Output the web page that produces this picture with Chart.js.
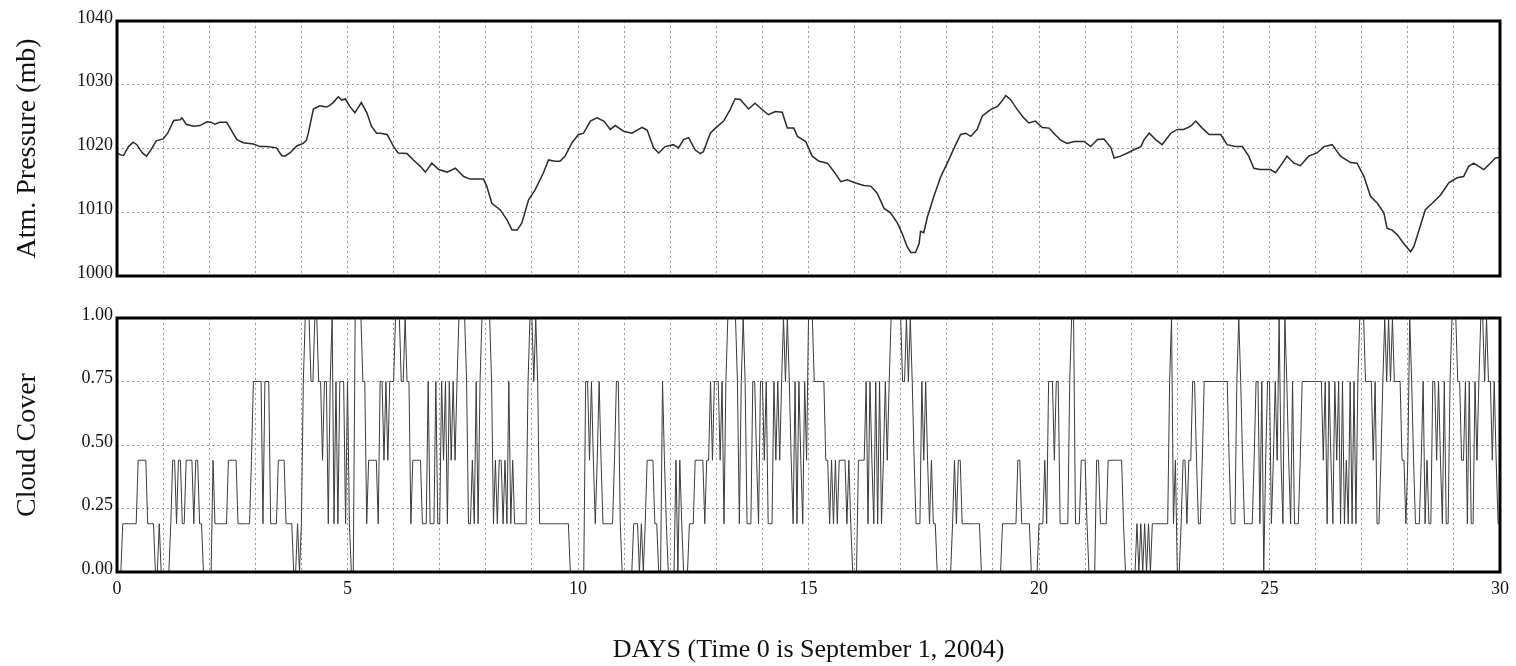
<!DOCTYPE html>
<html>
<head>
<meta charset="utf-8">
<script src="https://cdn.jsdelivr.net/npm/chart.js@4.4.0/dist/chart.umd.min.js"></script>
<style>
  body { margin: 0; background: #fff; }
  #wrap { position: relative; width: 1516px; height: 666px; }
  canvas { position: absolute; left: 0; }
</style>
</head>
<body>
<div id="wrap">
  <canvas id="pressure" width="1516" height="300" style="top:0"></canvas>
  <canvas id="cloud" width="1516" height="366" style="top:300px"></canvas>
</div>
<script>
// atmospheric pressure, read at irregular times (days since Sept 1, 2004)
const pDay = [
  0.00, 0.08, 0.14, 0.25, 0.35, 0.43, 0.55, 0.64, 0.72, 0.85, 1.00, 1.10, 1.23, 1.37, 1.41, 1.50, 1.66, 1.80, 1.95,
  2.05, 2.12, 2.23, 2.38, 2.47, 2.60, 2.74, 2.96, 3.10, 3.25, 3.46, 3.57, 3.64, 3.75, 3.90, 4.04, 4.11, 4.15, 4.26,
  4.40, 4.55, 4.62, 4.69, 4.80, 4.88, 4.95, 5.05, 5.16, 5.30, 5.42, 5.52, 5.63, 5.71, 5.86, 6.00, 6.10, 6.29, 6.43,
  6.58, 6.69, 6.83, 6.98, 7.16, 7.34, 7.52, 7.66, 7.95, 8.02, 8.13, 8.31, 8.46, 8.57, 8.68, 8.78, 8.93, 9.07, 9.25,
  9.36, 9.50, 9.61, 9.72, 9.87, 10.01, 10.12, 10.27, 10.41, 10.56, 10.70, 10.81, 10.99, 11.17, 11.39, 11.50, 11.64,
  11.75, 11.89, 12.07, 12.18, 12.29, 12.40, 12.54, 12.65, 12.72, 12.87, 12.98, 13.16, 13.30, 13.41, 13.52, 13.70,
  13.84, 13.95, 14.13, 14.28, 14.43, 14.54, 14.68, 14.76, 14.94, 15.08, 15.23, 15.41, 15.55, 15.70, 15.84, 16.02,
  16.20, 16.35, 16.49, 16.64, 16.78, 16.93, 17.03, 17.14, 17.22, 17.32, 17.40, 17.43, 17.50, 17.58, 17.72, 17.87,
  18.01, 18.16, 18.30, 18.41, 18.52, 18.66, 18.77, 18.95, 19.10, 19.17, 19.28, 19.38, 19.53, 19.67, 19.78, 19.92,
  20.07, 20.22, 20.32, 20.47, 20.61, 20.76, 20.98, 21.12, 21.27, 21.41, 21.56, 21.63, 21.77, 21.92, 22.06, 22.21,
  22.28, 22.39, 22.53, 22.67, 22.86, 23.00, 23.14, 23.29, 23.40, 23.54, 23.69, 23.94, 24.08, 24.26, 24.41, 24.55,
  24.66, 24.80, 25.02, 25.13, 25.28, 25.38, 25.53, 25.67, 25.85, 26.03, 26.18, 26.36, 26.54, 26.76, 26.90, 27.05,
  27.19, 27.34, 27.48, 27.55, 27.66, 27.77, 27.91, 28.06, 28.13, 28.27, 28.38, 28.53, 28.71, 28.89, 29.07, 29.21,
  29.32, 29.43, 29.54, 29.65, 29.79, 29.90, 30.00
];
const pMb = [
  1019.3, 1019.0, 1018.9, 1020.3, 1021.0, 1020.6, 1019.3, 1018.8, 1019.6, 1021.2, 1021.5, 1022.4, 1024.4, 1024.5, 1024.8, 1023.8, 1023.5, 1023.6, 1024.2,
  1024.1, 1023.8, 1024.1, 1024.1, 1023.0, 1021.4, 1020.9, 1020.7, 1020.3, 1020.3, 1020.1, 1018.9, 1018.8, 1019.3, 1020.4, 1020.8, 1021.3, 1022.4, 1026.2,
  1026.7, 1026.5, 1026.8, 1027.2, 1028.1, 1027.6, 1027.8, 1026.6, 1025.6, 1027.2, 1025.6, 1023.5, 1022.4, 1022.4, 1022.2, 1020.3, 1019.3, 1019.2, 1018.2,
  1017.2, 1016.3, 1017.7, 1016.7, 1016.3, 1016.9, 1015.6, 1015.2, 1015.2, 1014.1, 1011.4, 1010.4, 1008.8, 1007.2, 1007.2, 1008.3, 1012.0, 1013.5, 1016.2,
  1018.2, 1018.0, 1018.0, 1018.8, 1020.9, 1022.2, 1022.4, 1024.3, 1024.8, 1024.3, 1023.0, 1023.6, 1022.7, 1022.4, 1023.3, 1022.9, 1020.1,
  1019.3, 1020.3, 1020.6, 1020.1, 1021.4, 1021.7, 1019.8, 1019.2, 1019.5, 1022.4, 1023.2, 1024.3, 1026.1, 1027.8, 1027.7, 1026.2,
  1027.1, 1026.4, 1025.3, 1025.8, 1025.7, 1023.2, 1023.2, 1021.9, 1021.1, 1018.8, 1018.0, 1017.7, 1016.4, 1014.8, 1015.1, 1014.6,
  1014.2, 1014.1, 1013.0, 1010.6, 1009.9, 1008.3, 1006.7, 1004.6, 1003.7, 1003.7, 1005.1, 1007.0, 1006.8, 1009.3, 1012.5, 1015.6,
  1017.7, 1020.1, 1022.2, 1022.4, 1021.9, 1023.0, 1025.1, 1026.1, 1026.6, 1027.2, 1028.3, 1027.7, 1026.1, 1024.8, 1024.0, 1024.3,
  1023.3, 1023.2, 1022.4, 1021.3, 1020.8, 1021.1, 1021.1, 1020.3, 1021.4, 1021.5, 1020.1, 1018.5, 1018.8, 1019.3, 1019.8, 1020.3,
  1021.4, 1022.4, 1021.4, 1020.6, 1022.4, 1023.0, 1023.0, 1023.5, 1024.3, 1023.2, 1022.2, 1022.2, 1020.6, 1020.3, 1020.3, 1018.8,
  1016.9, 1016.7, 1016.7, 1016.2, 1017.7, 1018.8, 1017.7, 1017.3, 1018.8, 1019.3, 1020.3, 1020.6, 1018.8, 1017.8, 1017.7, 1015.6,
  1012.5, 1011.4, 1009.9, 1007.5, 1007.2, 1006.5, 1005.1, 1003.8, 1004.6, 1007.8, 1010.4, 1011.4, 1012.7, 1014.6, 1015.4, 1015.6,
  1017.2, 1017.7, 1017.2, 1016.7, 1017.7, 1018.5, 1018.6
];

// hourly cloud cover, stored as runs: level index and number of hours at that level
const cloudLevels = [0, 0.19, 0.44, 0.75, 1.00];
const cloudCode = [
  0,1,2,1,0,1,0,                                   // day 0
  0,1,2,1,2,1,2,1,2,1,0,                           // day 1
  0,2,1,2,1,2,3,                                   // day 2
  3,1,3,1,2,1,0,1,0,                               // day 3
  1,3,4,3,4,3,2,3,1,3,4,1,3,1,3,1,                 // day 4
  3,1,0,4,3,1,2,1,3,2,3,2,3,                       // day 5
  3,4,3,4,3,1,2,1,3,1,3,1,                         // day 6
  1,3,2,3,1,3,2,3,2,3,4,3,1,2,1,3,1,3,4,           // day 7
  4,3,1,2,1,2,1,2,1,3,1,2,1,3,4,                   // day 8
  4,3,4,3,1,0,                                     // day 9
  0,3,2,3,2,1,2,3,2,1,2,3,1,0,                     // day 10
  0,1,0,1,0,1,2,1,0,3,2,1,0,                       // day 11
  0,2,0,2,1,0,1,2,1,2,3,2,3,                       // day 12
  3,2,3,1,3,4,3,1,3,4,3,1,3,2,1,3,                 // day 13
  3,2,3,1,3,2,3,2,3,4,3,4,3,2,1,3,1,3,2,1,3,2,     // day 14
  4,3,2,1,2,1,2,1,2,1,2,1,0,                       // day 15
  0,2,3,1,3,2,1,3,1,3,1,2,3,2,3,4,                 // day 16
  4,3,4,3,4,3,2,1,3,2,3,2,1,2,1,0,                 // day 17
  0,1,2,1,2,1,0,                                   // day 18
  0,1,2,1,0,                                       // day 19
  1,2,1,3,2,3,1,3,4,1,2,                           // day 20
  2,1,0,2,1,2,1,0,                                 // day 21
  0,1,0,1,0,1,0,1,0,1,3,4,1,2,                     // day 22
  0,1,2,1,2,3,2,1,2,3,                             // day 23
  3,2,1,3,4,3,2,1,2,3,1,3,0,2,3,                   // day 24
  3,1,2,3,2,4,2,1,4,3,2,1,3,1,2,3,                 // day 25
  3,2,3,1,3,2,1,3,2,3,1,3,1,2,1,3,1,3,1,3,4,       // day 26
  4,3,2,3,1,2,3,4,3,4,3,4,3,2,1,                   // day 27
  2,4,3,2,1,2,3,1,2,1,3,2,3,2,1,3,1,3,4,           // day 28
  4,3,2,3,1,3,1,3,2,3,4,3,4,3,2,3,2,1              // day 29
];
const cloudHours = [
  3,8,5,4,2,1,1,
  4,1,2,1,2,2,4,1,2,2,3,
  2,1,7,5,7,1,1,
  4,1,3,4,4,4,2,1,1,
  1,1,3,2,2,2,1,2,1,1,1,1,1,1,3,1,
  1,1,2,4,2,1,5,1,2,1,1,1,2,
  1,3,2,1,2,1,5,3,1,3,1,1,
  1,1,1,1,1,1,1,1,1,1,4,1,2,1,1,1,1,1,2,
  3,1,1,1,1,2,1,1,1,1,1,1,7,1,1,
  1,1,1,1,16,4,
  4,2,1,1,1,1,1,1,1,6,1,2,1,1,
  5,3,1,1,1,1,4,2,2,1,1,1,1,
  3,1,1,1,1,3,3,5,1,2,1,1,1,
  2,1,1,1,1,5,1,1,1,1,1,3,2,1,1,1,
  1,1,1,3,1,1,1,1,1,1,1,1,1,1,1,1,1,1,1,1,1,1,
  3,6,2,1,1,1,1,1,4,1,1,1,1,
  2,4,1,1,1,1,1,1,1,1,1,1,1,1,1,5,
  1,2,1,1,1,1,1,3,1,1,1,1,1,1,2,5,
  3,1,1,1,2,10,6,
  5,8,2,5,4,
  3,1,1,3,1,2,5,1,2,3,2,
  1,1,4,2,4,8,1,3,
  3,1,1,1,1,1,1,1,1,9,1,1,1,1,
  2,1,2,1,2,2,1,2,1,10,
  3,1,3,1,1,1,1,5,1,2,1,1,1,1,1,
  1,1,1,1,1,1,1,1,1,1,1,1,1,3,1,7,
  4,1,1,1,1,1,1,1,1,1,1,1,1,1,1,1,1,1,1,1,1,
  2,4,1,1,2,1,1,1,1,1,1,1,4,2,1,
  1,1,1,1,3,1,1,1,1,2,2,1,1,1,1,1,2,1,1,
  2,2,2,1,1,1,2,1,1,1,2,1,1,2,1,1,1,2
];

const serif = 'Liberation Serif';
const ink = '#111';
const gridColor = '#9a9a9a';

const pressurePts = pDay.map((d, i) => ({x: d, y: pMb[i]}));
const cloudPts = [];
let hour = 0;
cloudCode.forEach((c, i) => {
  for (let k = 0; k < cloudHours[i]; k++) {
    cloudPts.push({x: hour / 24, y: cloudLevels[c]});
    hour++;
  }
});

// heavy black box round each plot
const frame = {
  id: 'frame',
  afterDraw(chart) {
    const {ctx, chartArea: a} = chart;
    ctx.save();
    ctx.strokeStyle = '#000';
    ctx.lineWidth = 3;
    ctx.strokeRect(a.left, a.top, a.right - a.left, a.bottom - a.top);
    ctx.restore();
  }
};

function gridOpts() {
  return {color: gridColor, lineWidth: 1, drawTicks: false};
}
function borderOpts() {
  return {display: false, dash: [2, 3]};
}

new Chart(document.getElementById('pressure'), {
  type: 'line',
  data: {
    datasets: [{
      data: pressurePts,
      borderColor: '#2a2a2a',
      borderWidth: 1.5,
      pointRadius: 0,
      tension: 0
    }]
  },
  options: {
    responsive: false,
    animation: false,
    layout: {padding: {left: 0, right: 16, top: 21, bottom: 0}},
    plugins: {legend: {display: false}, tooltip: {enabled: false}},
    scales: {
      x: {
        type: 'linear', min: 0, max: 30,
        ticks: {display: false, stepSize: 1},
        grid: gridOpts(),
        border: borderOpts(),
        afterFit: s => { s.height = 24; }
      },
      y: {
        min: 1000, max: 1040,
        ticks: {stepSize: 10, color: ink, font: {family: serif, size: 18}, padding: 4, labelOffset: -3, callback: v => String(v)},
        grid: gridOpts(),
        border: borderOpts(),
        title: {display: true, text: 'Atm. Pressure (mb)', color: ink, font: {family: serif, size: 28}, padding: {top: 11, bottom: 0}},
        afterFit: s => { s.width = 117; }
      }
    }
  },
  plugins: [frame]
});

new Chart(document.getElementById('cloud'), {
  type: 'line',
  data: {
    datasets: [{
      data: cloudPts,
      borderColor: '#3a3a3a',
      borderWidth: 1,
      pointRadius: 0,
      tension: 0
    }]
  },
  options: {
    responsive: false,
    animation: false,
    layout: {padding: {left: 0, right: 16, top: 18, bottom: 0}},
    plugins: {legend: {display: false}, tooltip: {enabled: false}},
    scales: {
      x: {
        type: 'linear', min: 0, max: 30,
        ticks: {
          stepSize: 1, autoSkip: false, maxRotation: 0, color: ink, padding: 6,
          font: {family: serif, size: 18},
          callback: v => (v % 5 === 0 ? String(v) : '')
        },
        grid: gridOpts(),
        border: borderOpts(),
        title: {display: true, text: 'DAYS (Time 0 is September 1, 2004)', color: ink, font: {family: serif, size: 26}, padding: {top: 0, bottom: 0}},
        afterFit: s => { s.height = 94; }
      },
      y: {
        min: 0, max: 1,
        ticks: {stepSize: 0.25, color: ink, font: {family: serif, size: 18}, padding: 4, labelOffset: -3, callback: v => v.toFixed(2)},
        grid: gridOpts(),
        border: borderOpts(),
        title: {display: true, text: 'Cloud Cover', color: ink, font: {family: serif, size: 28}, padding: {top: 11, bottom: 0}},
        afterFit: s => { s.width = 117; }
      }
    }
  },
  plugins: [frame]
});
</script>
</body>
</html>
